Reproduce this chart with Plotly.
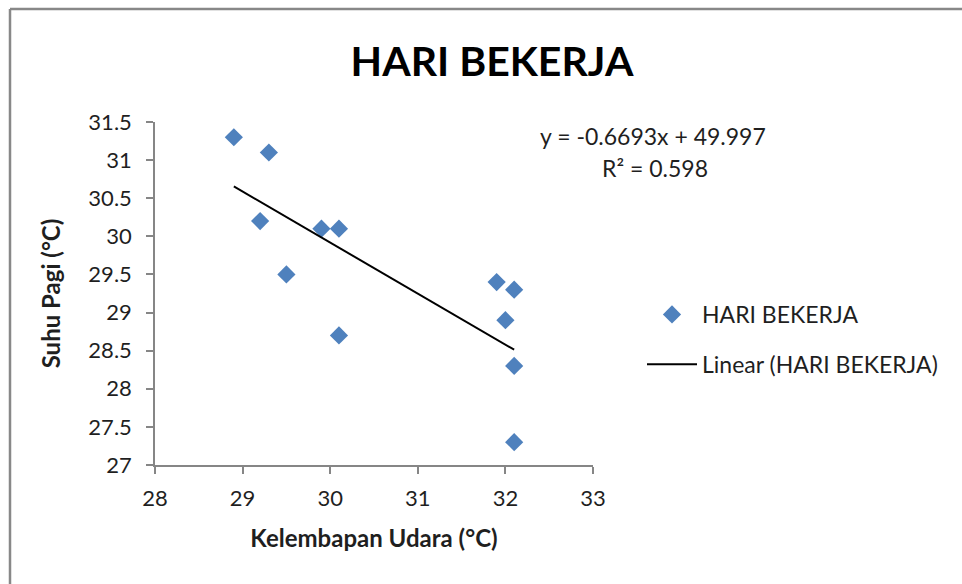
import plotly.graph_objects as go

humidity = [28.9, 29.3, 29.2, 29.5, 29.9, 30.1, 30.1, 31.9, 32.1, 32.0, 32.1, 32.1]
temp_morning = [31.3, 31.1, 30.2, 29.5, 30.1, 30.1, 28.7, 29.4, 29.3, 28.9, 28.3, 27.3]
slope = -0.6693
intercept = 49.997
r2 = 0.598
x_ticks = [28, 29, 30, 31, 32, 33]
y_ticks = [27, 27.5, 28, 28.5, 29, 29.5, 30, 30.5, 31, 31.5]

trend_x = [min(humidity), max(humidity)]
trend_y = [slope * v + intercept for v in trend_x]

W, H = 962, 584
L, R, T, B = 155, 962 - 593, 122, 584 - 465
pw, ph = W - L - R, H - T - B

def px_x(p):
    return (p - L) / pw

def px_y(p):
    return (H - B - p) / ph

font = "Lato, Carlito, Calibri, sans-serif"
txt = "#1f1f1f"

fig = go.Figure()
fig.add_trace(go.Scatter(
    x=humidity, y=temp_morning, mode="markers", name="HARI BEKERJA",
    marker=dict(symbol="diamond", size=14, color="#4F81BD", line=dict(width=0)),
    legendgroup="a", cliponaxis=False,
))
fig.add_trace(go.Scatter(
    x=trend_x, y=trend_y, mode="lines", name="Linear (HARI BEKERJA)",
    line=dict(color="black", width=2), legendgroup="b",
))

axis_common = dict(
    showgrid=False, zeroline=False, showline=True, linecolor="#868686", linewidth=1.5,
    ticks="outside", ticklen=7, tickcolor="#868686", tickwidth=1.5,
    tickfont=dict(family=font, size=22, color=txt),
)
fig.update_xaxes(range=[28, 33], tickvals=x_ticks, ticktext=[str(v) for v in x_ticks],
                 ticklabelstandoff=6,
                 title=dict(text="<b>Kelembapan Udara (°C)</b>", font=dict(family=font, size=24, color=txt), standoff=20),
                 **axis_common)
fig.update_yaxes(range=[27, 31.5], tickvals=y_ticks, ticktext=[("%g" % v) for v in y_ticks],
                 ticklabelstandoff=10,
                 title=dict(text="<b>Suhu Pagi (°C)</b>", font=dict(family=font, size=24, color=txt), standoff=21),
                 **axis_common)

fig.update_layout(
    width=W, height=H, margin=dict(l=L, r=R, t=T, b=B, autoexpand=False),
    plot_bgcolor="white", paper_bgcolor="white",
    title=dict(text="<b>HARI BEKERJA</b>", x=492 / W, xanchor="center",
               y=1 - 62 / H, yanchor="middle", font=dict(family=font, size=41, color="black")),
    showlegend=True,
    legend=dict(x=px_x(642), y=px_y(293), xanchor="left", yanchor="top",
                font=dict(family=font, size=23, color=txt), itemwidth=50,
                traceorder="grouped", tracegroupgap=17, bgcolor="rgba(0,0,0,0)"),
    annotations=[
        dict(text="y = %.4fx + %.3f" % (slope, intercept), x=px_x(653), y=px_y(136), xref="paper", yref="paper",
             showarrow=False, xanchor="center", yanchor="middle", font=dict(family=font, size=23, color=txt)),
        dict(text="R² = %.3f" % r2, x=px_x(655), y=px_y(168), xref="paper", yref="paper",
             showarrow=False, xanchor="center", yanchor="middle", font=dict(family=font, size=23, color=txt)),
    ],
    shapes=[
        dict(type="line", xref="paper", yref="paper", x0=px_x(10), x1=px_x(970), y0=px_y(9), y1=px_y(9),
             line=dict(color="#888888", width=2.5)),
        dict(type="line", xref="paper", yref="paper", x0=px_x(10), x1=px_x(10), y0=px_y(9), y1=px_y(600),
             line=dict(color="#888888", width=2.5)),
    ],
)

fig.write_html("out.html", config={"displayModeBar": False},
               post_script="document.body.style.margin='0';document.body.style.overflow='hidden';")
